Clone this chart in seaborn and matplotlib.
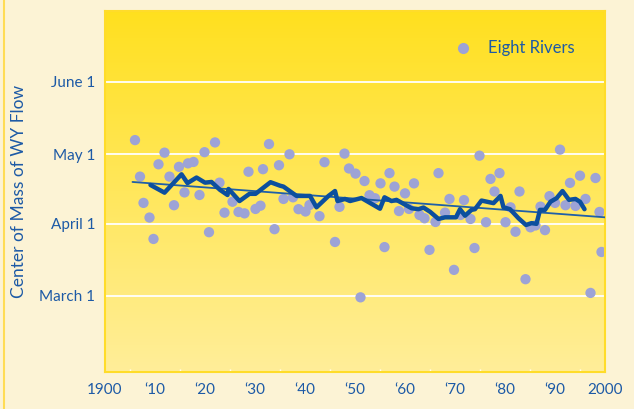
import numpy as np
import pandas as pd
import matplotlib.pyplot as plt
import seaborn as sns
from matplotlib.colors import LinearSegmentedColormap
from matplotlib.lines import Line2D

# Eight Rivers: center of mass of water-year flow (day of year)
years = [1906.0, 1907.0, 1907.7, 1908.9, 1909.7, 1910.7, 1911.9, 1912.9, 1913.8, 1914.8,
         1915.9, 1916.6, 1917.7, 1918.9, 1919.9, 1920.8, 1922.0, 1922.9, 1923.9, 1925.5,
         1926.7, 1927.9, 1928.7, 1930.1, 1931.1, 1931.6, 1932.8, 1933.9, 1934.8, 1935.7,
         1936.9, 1937.6, 1938.7, 1940.1, 1940.9, 1942.9, 1943.9, 1946.0, 1946.9, 1947.9,
         1948.8, 1950.1, 1951.1, 1951.9, 1952.9, 1954.0, 1955.1, 1955.9, 1956.9, 1957.9,
         1958.8, 1960.0, 1960.8, 1961.8, 1962.9, 1963.9, 1964.9, 1966.1, 1966.7, 1968.0,
         1968.9, 1969.8, 1971.1, 1971.8, 1973.1, 1973.9, 1974.9, 1976.2, 1977.1, 1977.9,
         1978.9, 1980.1, 1981.1, 1982.1, 1982.9, 1984.1, 1985.1, 1986.1, 1987.1, 1988.0,
         1988.9, 1990.0, 1991.0, 1992.1, 1993.0, 1994.1, 1995.0, 1996.1, 1997.1, 1998.1,
         1998.9, 1999.3]
days = [127.0, 111.3, 100.0, 93.7, 84.5, 116.6, 121.6, 111.3, 99.0, 115.5,
        104.5, 117.0, 117.6, 103.4, 121.8, 87.4, 126.0, 108.7, 95.8, 100.5,
        96.1, 95.5, 113.4, 97.4, 98.8, 114.5, 125.3, 88.7, 116.2, 101.7,
        120.9, 102.4, 97.3, 96.3, 99.1, 94.3, 117.5, 83.2, 98.3, 121.2,
        114.8, 112.6, 59.4, 109.4, 103.3, 102.0, 108.4, 81.0, 112.8, 107.0,
        96.5, 104.1, 97.4, 108.4, 94.8, 93.4, 79.8, 91.8, 112.8, 95.8,
        101.7, 71.2, 94.8, 101.2, 93.1, 80.6, 120.3, 91.7, 110.3, 104.9,
        112.8, 91.7, 98.1, 87.6, 104.9, 67.2, 89.5, 90.3, 98.4, 88.3,
        102.9, 100.0, 122.9, 99.0, 108.6, 98.7, 111.7, 101.7, 61.3, 110.7,
        96.1, 78.9]

# running mean (thick line)
avg_years = [1909.1, 1911.9, 1915.3, 1916.5, 1918.3, 1920.0, 1921.3, 1923.0, 1924.5, 1924.7,
             1926.9, 1928.9, 1930.1, 1933.1, 1935.0, 1935.7, 1938.3, 1941.0, 1942.3, 1944.7,
             1946.0, 1946.5, 1948.0, 1949.0, 1951.3, 1955.0, 1955.9, 1957.3, 1958.3, 1961.3,
             1962.7, 1963.7, 1965.0, 1966.7, 1968.0, 1970.2, 1971.0, 1972.0, 1973.3, 1974.0,
             1975.3, 1977.7, 1979.1, 1979.7, 1981.0, 1982.7, 1984.2, 1985.3, 1986.3, 1987.0,
             1988.0, 1989.1, 1990.3, 1991.5, 1992.8, 1994.1, 1995.0, 1995.9]
avg_days = [107.7, 104.4, 112.3, 108.5, 110.9, 108.7, 109.0, 105.6, 103.4, 106.0,
            100.8, 103.9, 103.9, 108.9, 107.4, 107.0, 103.0, 103.0, 98.1, 103.0,
            105.1, 100.8, 101.7, 100.8, 102.1, 97.5, 102.4, 100.8, 101.3, 97.7,
            97.3, 98.0, 96.2, 93.1, 93.8, 93.8, 97.3, 94.5, 97.0, 97.3,
            101.0, 99.9, 103.0, 98.1, 97.3, 93.4, 90.5, 91.3, 91.0, 97.0,
            97.0, 100.5, 102.0, 105.1, 101.3, 101.7, 100.5, 97.3]

# linear trend end points
trend_years = [1905.5, 2000.0]
trend_days = [109.0, 93.8]

ytick_days = [60, 91, 121, 152]
ytick_labels = ["March 1", "April 1", "May 1", "June 1"]
xtick_years = list(range(1900, 2001, 10))
xtick_labels = ["1900", "\u201810", "\u201820", "\u201830", "\u201840", "\u201850",
                "\u201860", "\u201870", "\u201880", "\u201890", "2000"]

blue = "#1d5aa6"
sns.set_style("white")
plt.rcParams["font.family"] = ["Lato", "DejaVu Sans"]

fig = plt.figure(figsize=(6.34, 4.09), dpi=100, facecolor="#fcf3d5")
ax = fig.add_axes([105 / 634, 37 / 409, 500 / 634, 361 / 409])

x0, x1 = 1900, 2000
y0, y1 = 27.3, 182.5

# yellow gradient background (darker at the top)
grad = np.linspace(0, 1, 256).reshape(-1, 1)
cmap = LinearSegmentedColormap.from_list("bg", ["#ffe01f", "#ffee99"])
ax.imshow(grad, extent=[x0, x1, y0, y1], aspect="auto", cmap=cmap,
          origin="upper", zorder=0)

for d in ytick_days:
    ax.axhline(d, color="white", lw=1.3, zorder=1)

pts = pd.DataFrame({"year": years, "day": days})
sns.scatterplot(data=pts, x="year", y="day", ax=ax, color="#9da3d6", s=55,
                edgecolor="none", zorder=2, legend=False)

trend = pd.DataFrame({"year": trend_years, "day": trend_days})
sns.lineplot(data=trend, x="year", y="day", ax=ax, color="#1f5fa8", lw=1.3, zorder=3)

avg = pd.DataFrame({"year": avg_years, "day": avg_days})
sns.lineplot(data=avg, x="year", y="day", ax=ax, color="#0c4f9e", lw=3.2, zorder=4,
             sort=False)

ax.set_xlim(x0, x1)
ax.set_ylim(y0, y1)

ax.set_yticks(ytick_days)
ax.set_yticklabels(ytick_labels)
ax.set_xticks(xtick_years)
ax.set_xticklabels(xtick_labels)
ax.set_xticks(list(range(1905, 2000, 10)), minor=True)

ax.tick_params(axis="x", which="major", direction="in", length=5, width=1,
               color="white", labelcolor=blue, labelsize=11, pad=8)
ax.tick_params(axis="x", which="minor", direction="in", length=2.5, width=1,
               color="white", bottom=True)
ax.tick_params(axis="y", direction="out", length=4, width=1, color="white",
               labelcolor=blue, labelsize=11, pad=3)

ax.set_xlabel("")
ax.set_ylabel("Center of Mass of WY Flow", color=blue, fontsize=12.5)
ax.yaxis.set_label_coords(-0.155, 0.5)

for s in ax.spines.values():
    s.set_color("#ffdc2a")
    s.set_linewidth(1.5)

handle = Line2D([], [], marker="o", ls="none", color="#9da3d6", markersize=7)
ax.legend([handle], ["Eight Rivers"], loc="upper right", frameon=False,
          bbox_to_anchor=(0.97, 0.96), handletextpad=0.5, labelcolor=blue,
          prop={"size": 12})

# left yellow frame line of the panel
fig.add_artist(Line2D([0.006, 0.006], [0, 1], color="#ffdc55", lw=1.5))

fig.savefig("out.png", dpi=100, facecolor=fig.get_facecolor())
